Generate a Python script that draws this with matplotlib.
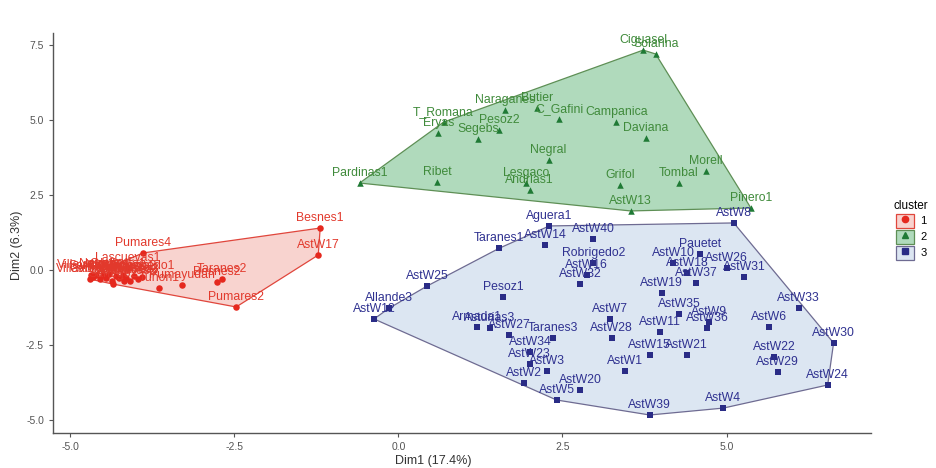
import matplotlib
matplotlib.use("Agg")
import matplotlib.pyplot as plt
import numpy as np
from matplotlib.lines import Line2D
from matplotlib.patches import Patch
from matplotlib.legend_handler import HandlerTuple

plt.rcParams["font.family"] = ["Liberation Sans", "DejaVu Sans"]
plt.rcParams["axes.unicode_minus"] = False

# ── data ─────────────────────────────────────────────────────────────────────
red_names = [
    "Villaviciosa1", "Villaviciosa2", "Sariego1", "Nava1", "Cabranes1", "Nava2",
    "Allande1", "Grado1", "Salas1", "Sariego2", "Cabranes2", "Allande2",
    "Infiesto1", "Lascuevas2", "Pumares1", "Lascuevas1", "Pumares3", "Aguera2",
    "Pesoz3", "Robrigedo1", "Pumares4", "Tuñon1", "Pumayudan", "Besnes2",
    "Taranes2", "Pumares2", "Besnes1", "AstW17",
]
red_x = [-4.70, -4.68, -4.65, -4.60, -4.55, -4.50, -4.45, -4.40, -4.36, -4.34,
         -4.30, -4.25, -4.20, -4.18, -4.15, -4.12, -4.08, -4.02, -3.96, -3.90,
         -3.89, -3.64, -3.29, -2.76, -2.68, -2.47, -1.19, -1.22]
red_y = [-0.30, -0.18, -0.22, -0.15, -0.30, -0.18, -0.25, -0.13, -0.35, -0.47,
         -0.20, -0.27, -0.15, -0.37, -0.25, 0.07, -0.35, -0.20, -0.30, -0.22,
         0.57, -0.60, -0.50, -0.40, -0.30, -1.23, 1.40, 0.50]

green_names = [
    "Ciguasel", "Solarina", "Naraganes", "Butier", "C_Gafini", "Campanica",
    "Daviana", "T_Romana", "Eryas", "Pesoz2", "Segebs", "Negral", "Pardinas1",
    "Ribet", "Lesgaco", "Andrias1", "Grifol", "Tombal", "Morell", "Pinero1", "AstW13",
]
green_x = [3.73, 3.92, 1.63, 2.12, 2.45, 3.32, 3.77, 0.69, 0.61, 1.54, 1.22, 2.29,
           -0.59, 0.59, 1.94, 2.00, 3.38, 4.27, 4.68, 5.37, 3.54]
green_y = [7.33, 7.20, 5.33, 5.40, 5.03, 4.93, 4.40, 4.93, 4.57, 4.67, 4.37, 3.67,
           2.90, 2.93, 2.90, 2.67, 2.83, 2.90, 3.30, 2.07, 1.97]

blue_names = [
    "Aguera1", "Taranes1", "AstW14", "AstW40", "Robrigedo2", "AstW16", "AstW32",
    "AstW25", "Allande3", "AstW12", "Pesoz1", "Armada1", "Asturias3", "AstW27",
    "Taranes3", "AstW34", "AstW23", "AstW3", "AstW2", "AstW5", "AstW20", "AstW8",
    "Pauetet", "AstW10", "AstW18", "AstW26", "AstW31", "AstW37", "AstW19", "AstW7",
    "AstW35", "AstW9", "AstW36", "AstW11", "AstW28", "AstW6", "AstW33", "AstW30",
    "AstW15", "AstW21", "AstW22", "AstW29", "AstW1", "AstW24", "AstW4", "AstW39",
]
blue_x = [2.30, 1.54, 2.24, 2.97, 2.97, 2.87, 2.77, 0.44, -0.14, -0.37, 1.60, 1.20,
          1.39, 1.69, 2.35, 2.01, 2.00, 2.26, 1.91, 2.41, 2.77, 5.11, 4.59, 4.19,
          4.40, 5.00, 5.27, 4.54, 4.01, 3.22, 4.28, 4.73, 4.70, 3.99, 3.25, 5.64,
          6.10, 6.63, 3.83, 4.39, 5.73, 5.78, 3.45, 6.54, 4.95, 3.83]
blue_y = [1.47, 0.73, 0.83, 1.03, 0.23, -0.17, -0.47, -0.53, -1.27, -1.63, -0.90,
          -1.90, -1.93, -2.17, -2.27, -2.73, -3.13, -3.37, -3.77, -4.33, -4.00, 1.57,
          0.53, 0.23, -0.10, 0.07, -0.23, -0.43, -0.77, -1.63, -1.47, -1.73, -1.93,
          -2.07, -2.27, -1.90, -1.27, -2.43, -2.83, -2.83, -2.90, -3.40, -3.37, -3.83,
          -4.60, -4.83]

clusters = [
    # label, names, x, y, marker, point colour, fill, hull edge, text colour
    ("1", red_names, red_x, red_y, "o", "#E5281E", "#F8D3CF", "#E0463C", "#E2392C"),
    ("2", green_names, green_x, green_y, "^", "#1F7A35", "#B0DABC", "#5E8F55", "#3F8A3A"),
    ("3", blue_names, blue_x, blue_y, "s", "#2A2C86", "#DCE6F2", "#6E6B92", "#2F3190"),
]


def convex_hull(xs, ys):
    pts = sorted(set(zip(xs, ys)))

    def cross(o, a, b):
        return (a[0] - o[0]) * (b[1] - o[1]) - (a[1] - o[1]) * (b[0] - o[0])

    lower, upper = [], []
    for p in pts:
        while len(lower) >= 2 and cross(lower[-2], lower[-1], p) <= 0:
            lower.pop()
        lower.append(p)
    for p in reversed(pts):
        while len(upper) >= 2 and cross(upper[-2], upper[-1], p) <= 0:
            upper.pop()
        upper.append(p)
    return np.array(lower[:-1] + upper[:-1])


fig = plt.figure(figsize=(9.37, 4.68), dpi=100)
ax = fig.add_axes([53 / 937, 35 / 468, (871 - 53) / 937, 400 / 468])

handles, labels = [], []
for lab, names, xs, ys, marker, col, fill, edge, tcol in clusters:
    hull = convex_hull(xs, ys)
    ax.fill(hull[:, 0], hull[:, 1], facecolor=fill, edgecolor=edge, lw=0.9, zorder=1)
    ax.scatter(xs, ys, marker=marker, s=22, color=col, zorder=3, linewidths=0)
    for name, x, y in zip(names, xs, ys):
        ax.annotate(name, (x, y), xytext=(0, 7.5), textcoords="offset points",
                    ha="center", va="center", fontsize=8.8,
                    color=tcol, zorder=4, annotation_clip=True, clip_on=True)
    handles.append((Patch(facecolor=fill, edgecolor=edge, lw=0.9),
                    Line2D([], [], marker=marker, color=col, ls="none", markersize=4.5)))
    labels.append(lab)

ax.set_xlim(-5.26, 7.2)
ax.set_ylim(-5.43, 7.9)
ax.set_xticks([-5.0, -2.5, 0.0, 2.5, 5.0])
ax.set_yticks([-5.0, -2.5, 0.0, 2.5, 5.0, 7.5])
ax.set_xticklabels([f"{t:.1f}" for t in ax.get_xticks()])
ax.set_yticklabels([f"{t:.1f}" for t in ax.get_yticks()])
ax.tick_params(colors="#555555", labelsize=7.5, length=3, width=0.8)
for s in ["top", "right"]:
    ax.spines[s].set_visible(False)
for s in ["left", "bottom"]:
    ax.spines[s].set_color("#555555")
    ax.spines[s].set_linewidth(1.0)

ax.set_xlabel("Dim1 (17.4%)", fontsize=9, color="#333333")
ax.xaxis.set_label_coords(0.465, -0.055)
ax.set_ylabel("Dim2 (6.3%)", fontsize=9, color="#333333")
ax.yaxis.set_label_coords(-0.037, 0.47)

fig.legend(handles, labels, title="cluster", loc="upper left",
           bbox_to_anchor=(884 / 937, 1 - 190 / 468), frameon=False,
           handler_map={tuple: HandlerTuple(ndivide=1, pad=0)},
           handlelength=1.6, handleheight=1.6, handletextpad=0.6,
           labelspacing=0.15, fontsize=8, title_fontsize=8.5)

fig.savefig("out.png", dpi=100)
